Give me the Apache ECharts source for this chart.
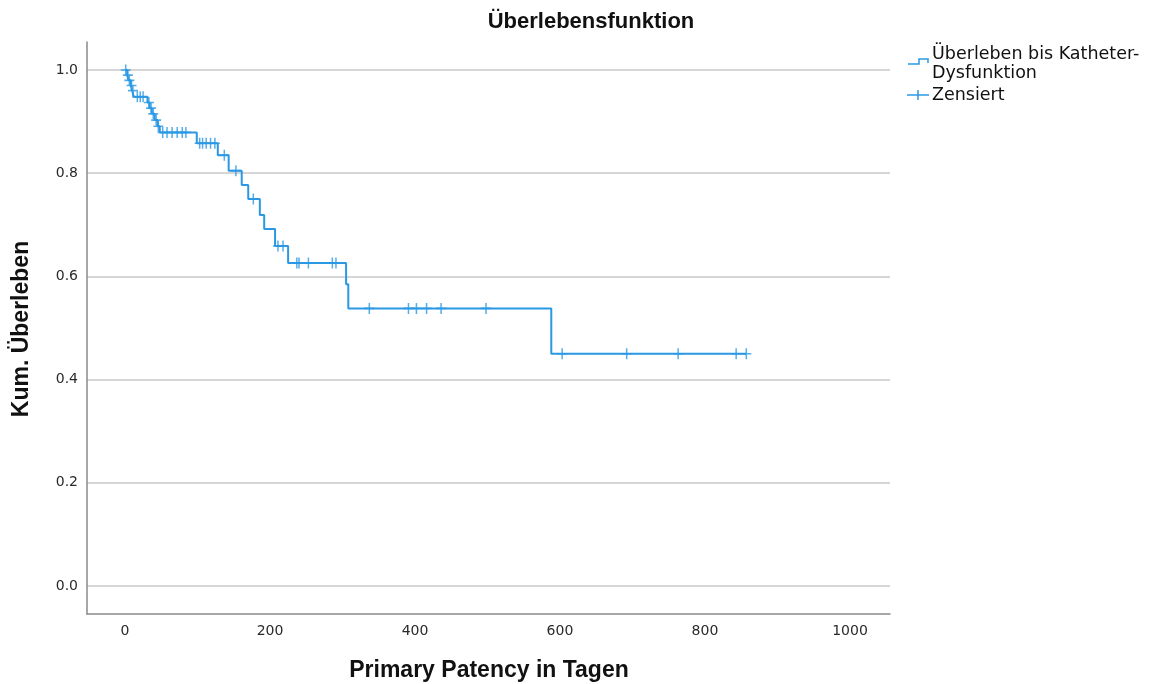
<!DOCTYPE html>
<html>
<head>
<meta charset="utf-8">
<script src="https://cdn.jsdelivr.net/npm/echarts@6/dist/echarts.min.js"></script>
<style>
  html, body { margin: 0; padding: 0; background: #ffffff; }
  #chart { width: 1154px; height: 684px; }
</style>
</head>
<body>
<div id="chart"></div>
<script>
// Kaplan-Meier estimate: days of catheter dysfunction and survival after each event
const eventDays = [3, 5, 8, 10, 12, 31, 34, 37, 41, 45, 48, 99, 128, 143, 161, 170, 186, 192, 207, 225, 305, 308, 588];
const eventSurvival = [0.990, 0.980, 0.970, 0.960, 0.948, 0.937, 0.926, 0.915, 0.903, 0.891, 0.879, 0.858, 0.835, 0.805, 0.777, 0.750, 0.719, 0.692, 0.659, 0.626, 0.585, 0.538, 0.450];
// last observed follow-up day (end of the curve)
const lastFollowUp = 857;
// censored observations (days)
const censoredDays = [1, 4, 6, 9, 11, 17, 21, 25, 33, 36, 39, 43, 46, 52, 58, 65, 72, 79, 84,
  103, 107, 112, 118, 124, 137, 153, 177, 211, 218, 237, 240, 253, 286, 291,
  337, 391, 402, 416, 436, 498, 603, 692, 763, 843, 857];
const xTicks = [0, 200, 400, 600, 800, 1000];
const yTicks = [0.0, 0.2, 0.4, 0.6, 0.8, 1.0];

const BLUE = '#2b98e4';
const TICK_FONT = 'DejaVu Sans';
const BOLD_FONT = 'Liberation Sans';

// survival value of the step function at day t
function survivalAt(t) {
  let s = 1;
  for (let i = 0; i < eventDays.length; i++) {
    if (eventDays[i] <= t) s = eventSurvival[i];
  }
  return s;
}

const curve = [[0, 1]].concat(
  eventDays.map((d, i) => [d, eventSurvival[i]]),
  [[lastFollowUp, eventSurvival[eventSurvival.length - 1]]]
);
const censorPoints = censoredDays.map(d => [d, survivalAt(d)]);

// plus-shaped marker for censored cases
const plusPath = 'path://M8.5,0 L11.5,0 L11.5,20 L8.5,20 Z M0,8.5 L20,8.5 L20,11.5 L0,11.5 Z';

const chart = echarts.init(document.getElementById('chart'), null, { renderer: 'canvas' });
chart.setOption({
  animation: false,
  backgroundColor: '#ffffff',
  grid: { left: 87, right: 264, top: 42, bottom: 70, containLabel: false },
  xAxis: {
    type: 'value',
    min: -52.4,
    max: 1055.2,
    axisLine: { show: true, onZero: false, lineStyle: { color: '#8a8a8a', width: 1.5 } },
    axisTick: { show: false, customValues: xTicks },
    axisLabel: {
      customValues: xTicks, color: '#2a2a2a', fontFamily: TICK_FONT, fontSize: 14, margin: 10,
      formatter: v => String(v)
    },
    splitLine: { show: false }
  },
  yAxis: {
    type: 'value',
    min: -0.0543,
    max: 1.0543,
    axisLine: { show: true, onZero: false, lineStyle: { color: '#8a8a8a', width: 1.5 } },
    axisTick: { show: false, customValues: yTicks },
    axisLabel: {
      customValues: yTicks, color: '#2a2a2a', fontFamily: TICK_FONT, fontSize: 14, margin: 9,
      formatter: v => v.toFixed(1)
    },
    splitLine: { show: true, lineStyle: { color: '#c9c9c9', width: 1.5 } }
  },
  series: [
    {
      name: 'Überleben bis Katheter-Dysfunktion',
      type: 'line',
      step: 'end',
      data: curve,
      showSymbol: false,
      symbol: 'none',
      lineStyle: { color: BLUE, width: 2 },
      z: 3
    },
    {
      name: 'Zensiert',
      type: 'scatter',
      data: censorPoints,
      symbol: plusPath,
      symbolSize: [10, 11],
      itemStyle: { color: BLUE },
      z: 4
    }
  ],
  graphic: [
    {
      type: 'text', x: 591, y: 22,
      style: { text: 'Überlebensfunktion', align: 'center', verticalAlign: 'middle',
        font: 'bold 22px "' + BOLD_FONT + '"', fill: '#111' }
    },
    {
      type: 'text', x: 22, y: 329, rotation: Math.PI / 2,
      style: { text: 'Kum. Überleben', align: 'center', verticalAlign: 'middle',
        font: 'bold 23px "' + BOLD_FONT + '"', fill: '#111' }
    },
    {
      type: 'text', x: 489, y: 671,
      style: { text: 'Primary Patency in Tagen', align: 'center', verticalAlign: 'middle',
        font: 'bold 23px "' + BOLD_FONT + '"', fill: '#111' }
    },
    // legend: step-line entry
    {
      type: 'polyline',
      shape: { points: [[908, 64], [919, 64], [919, 59], [928, 59], [928, 63]] },
      style: { stroke: BLUE, lineWidth: 1.5, fill: null }
    },
    {
      type: 'text', x: 932, y: 45,
      style: { text: 'Überleben bis Katheter-\nDysfunktion', align: 'left', verticalAlign: 'top',
        font: '17.5px "' + TICK_FONT + '"', lineHeight: 19, fill: '#111' }
    },
    // legend: censored entry
    {
      type: 'line', shape: { x1: 907, y1: 95, x2: 929, y2: 95 },
      style: { stroke: BLUE, lineWidth: 1.5 }
    },
    {
      type: 'line', shape: { x1: 918, y1: 90, x2: 918, y2: 100 },
      style: { stroke: BLUE, lineWidth: 1.5 }
    },
    {
      type: 'text', x: 932, y: 95,
      style: { text: 'Zensiert', align: 'left', verticalAlign: 'middle',
        font: '17.5px "' + TICK_FONT + '"', fill: '#111' }
    }
  ]
});
</script>
</body>
</html>
